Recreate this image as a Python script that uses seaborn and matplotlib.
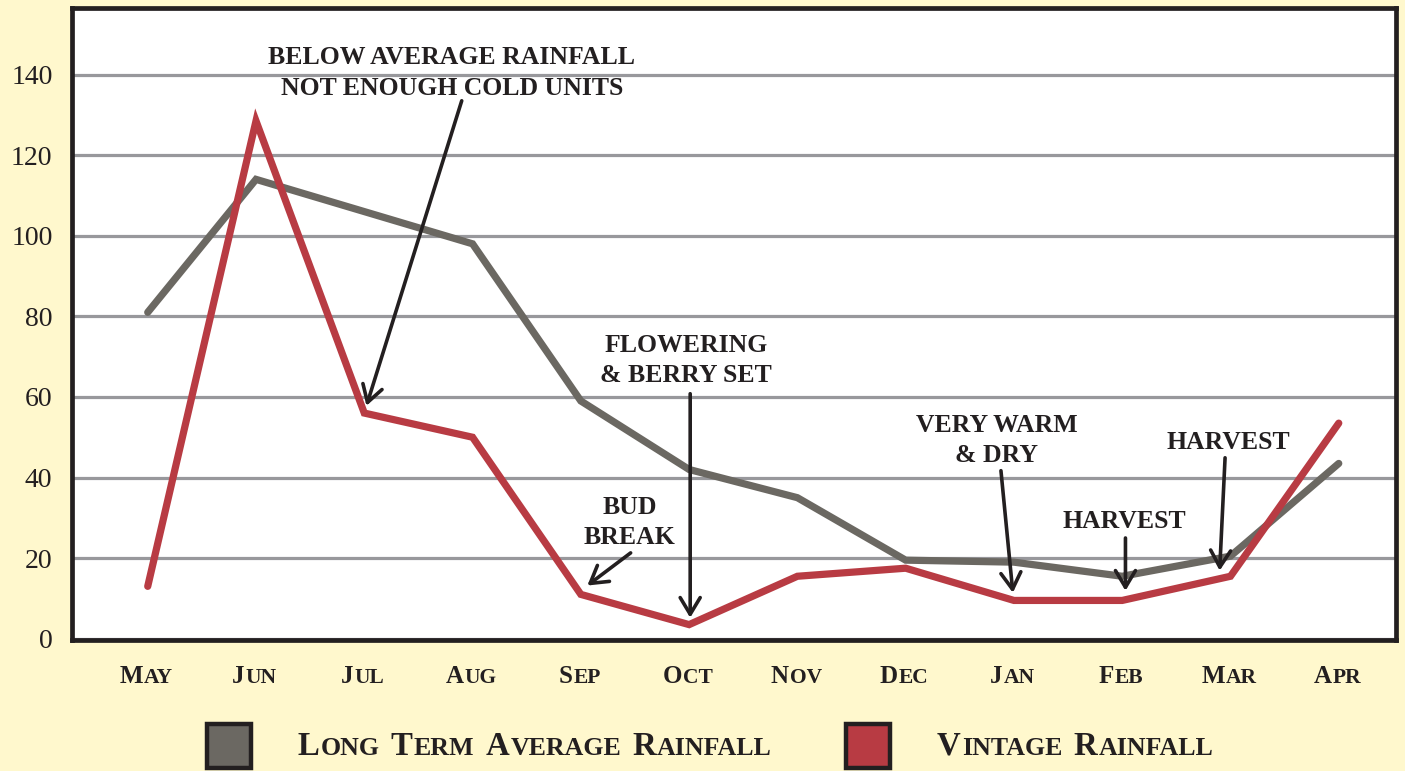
import numpy as np
import pandas as pd
import matplotlib
matplotlib.use("Agg")
import matplotlib.pyplot as plt
import seaborn as sns
from matplotlib.patches import Rectangle
from matplotlib.offsetbox import TextArea, HPacker, DrawingArea, AnnotationBbox

# 資料
months = ["May", "Jun", "Jul", "Aug", "Sep", "Oct", "Nov", "Dec", "Jan", "Feb", "Mar", "Apr"]
long_term = [81, 114, 106, 98, 59, 42, 35, 19.5, 19, 15.5, 20.5, 43.5]
vintage = [13, 128.5, 56, 50, 11, 3.5, 15.5, 17.5, 9.5, 9.5, 15.5, 53.5]
y_ticks = [0, 20, 40, 60, 80, 100, 120, 140]
series_names = ["Long Term Average Rainfall", "Vintage Rainfall"]

BG = "#FFF8CD"
INK = "#231F20"
GREY = "#6B6862"
RED = "#B83B43"
SERIF = ["Liberation Serif", "DejaVu Serif"]

sns.set_style("white")
plt.rcParams["font.family"] = SERIF

df = pd.DataFrame({"month": months, series_names[0]: long_term, series_names[1]: vintage})
df_long = df.melt(id_vars="month", var_name="series", value_name="rainfall")

fig = plt.figure(figsize=(14.05, 7.71), dpi=100, facecolor=BG)
ax = fig.add_axes([0.0512, 0.170, 0.9425, 0.8195])
ax.set_facecolor("white")

sns.lineplot(data=df_long, x="month", y="rainfall", hue="series", sort=False,
             palette=[GREY, RED], linewidth=5.2, legend=False, ax=ax,
             solid_joinstyle="miter", solid_capstyle="round")

ax.set_xlim(-0.70, 11.53)
ax.set_ylim(-0.3, 156.5)
ax.set_yticks(y_ticks)
ax.set_yticklabels([str(v) for v in y_ticks], fontsize=20, color=INK)
ax.tick_params(axis="y", length=0, pad=14)
ax.set_xticks(range(len(months)))
ax.set_xticklabels([""] * len(months))
ax.tick_params(axis="x", length=0)
ax.set_xlabel("")
ax.set_ylabel("")
ax.yaxis.grid(True, color="#98989C", linewidth=2.3)
ax.set_axisbelow(True)
for s in ax.spines.values():
    s.set_visible(True)
    s.set_color(INK)
    s.set_linewidth(3.4)


def small_caps(text, big, small, sep=6):
    """用兩種字級模擬小型大寫字母"""
    words = []
    for w in text.split(" "):
        kids = [TextArea(w[0].upper(), textprops=dict(fontsize=big, color=INK, fontweight="bold", family=SERIF))]
        if len(w) > 1:
            kids.append(TextArea(w[1:].upper(), textprops=dict(fontsize=small, color=INK, fontweight="bold", family=SERIF)))
        words.append(HPacker(children=kids, align="baseline", pad=0, sep=0.8))
    return HPacker(children=words, align="baseline", pad=0, sep=sep)


# 月份標籤
for i, m in enumerate(months):
    ab = AnnotationBbox(small_caps(m, 18, 15.5), (i, 0), xycoords=("data", "axes fraction"),
                        xybox=(-1, -18), boxcoords="offset points", box_alignment=(0.5, 1),
                        frameon=False, annotation_clip=False)
    ax.add_artist(ab)

# 註解
note_kw = dict(fontsize=18.5, fontweight="bold", color=INK, ha="center", va="center", linespacing=1.4)
arrow_kw = dict(arrowstyle="->,head_length=0.6,head_width=0.36", color=INK, lw=2.6,
                mutation_scale=20, shrinkA=0, shrinkB=0)

ax.text(2.81, 140.4, "BELOW AVERAGE RAINFALL\nNOT ENOUGH COLD UNITS", **note_kw)
ax.annotate("", xy=(2.02, vintage[2] + 1.8), xytext=(2.90, 133.5), arrowprops=arrow_kw)

ax.text(4.97, 69, "FLOWERING\n& BERRY SET", **note_kw)
ax.annotate("", xy=(5.01, vintage[5] + 1.7), xytext=(5.01, 60.8), arrowprops=arrow_kw)

ax.text(4.45, 28.8, "BUD\nBREAK", **note_kw)
ax.annotate("", xy=(4.06, vintage[4] + 2.2), xytext=(4.46, 21.3), arrowprops=arrow_kw)

ax.text(7.84, 49.1, "VERY WARM\n& DRY", **note_kw)
ax.annotate("", xy=(7.99, vintage[8] + 1.9), xytext=(7.88, 41.7), arrowprops=arrow_kw)

ax.text(9.02, 29, "HARVEST", **note_kw)
ax.annotate("", xy=(9.03, long_term[9] - 3.6), xytext=(9.03, 25), arrowprops=arrow_kw)

ax.text(9.98, 48.6, "HARVEST", **note_kw)
ax.annotate("", xy=(9.90, vintage[10] + 1.4), xytext=(9.95, 44.9), arrowprops=arrow_kw)


# 圖例
def swatch(color):
    da = DrawingArea(35, 35, 0, 0)
    da.add_artist(Rectangle((1.6, 1.6), 31.8, 31.8, facecolor=color, edgecolor=INK, linewidth=3.2))
    return da


items = [HPacker(children=[swatch(c), small_caps(name, 23.6, 18.6, sep=8)],
                 align="center", pad=0, sep=32)
         for c, name in zip([GREY, RED], series_names)]
legend_row = HPacker(children=items, align="center", pad=0, sep=52)
leg = AnnotationBbox(legend_row, (0.5046, 0.032), xycoords="figure fraction",
                     box_alignment=(0.5, 0.5), frameon=False)
fig.add_artist(leg)

fig.savefig("out.png", dpi=100, facecolor=BG)
